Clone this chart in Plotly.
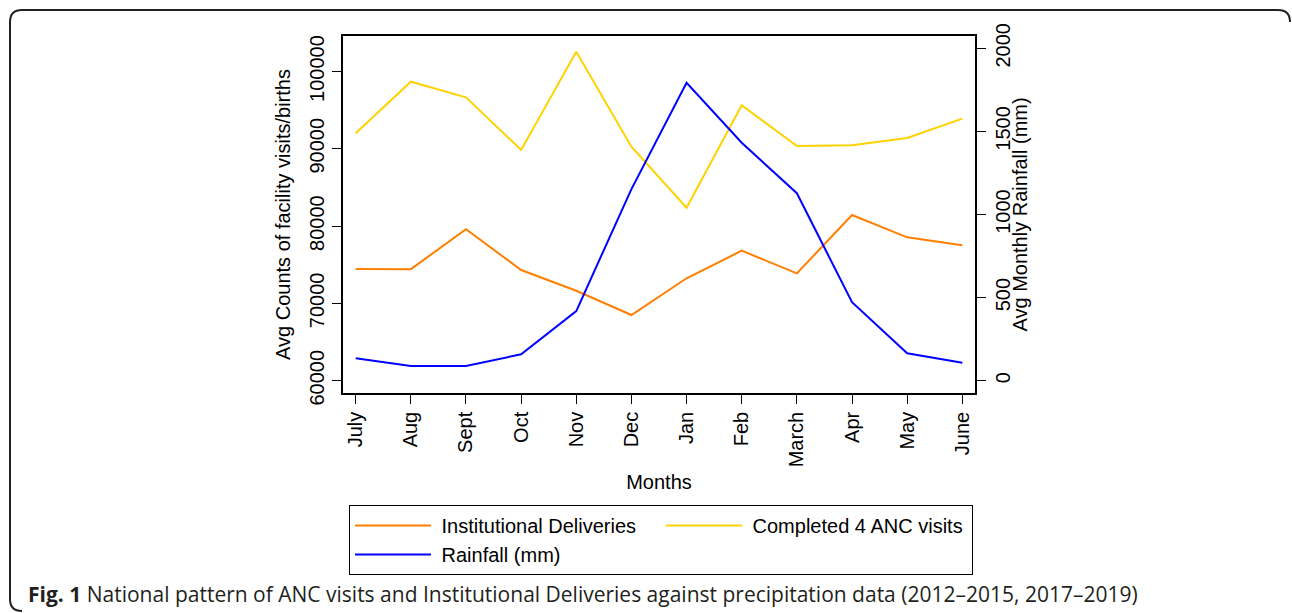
import plotly.graph_objects as go

months = ["July", "Aug", "Sept", "Oct", "Nov", "Dec", "Jan", "Feb", "March", "Apr", "May", "June"]
institutional_deliveries = [74450, 74430, 79590, 74320, 71640, 68500, 73250, 76820, 73890, 81440, 78550, 77520]
anc4_completed = [92000, 98680, 96660, 89850, 102560, 90270, 82380, 95630, 90360, 90450, 91400, 93900]
rainfall_mm = [135, 88, 88, 159, 419, 1153, 1793, 1432, 1128, 472, 165, 108]

left_ticks = [60000, 70000, 80000, 90000, 100000]
right_ticks = [0, 500, 1000, 1500, 2000]

W, H = 1292, 613
L, R, T, B = 343, 317, 36, 220
PW, PH = W - L - R, H - T - B

def px(x):
    return (x - L) / PW

def py(y):
    return (H - B - y) / PH

FONT = "Liberation Sans, Arial, sans-serif"
NB = "\u00a0"

fig = go.Figure()
fig.add_trace(go.Scatter(x=months, y=institutional_deliveries, mode="lines",
                         name=NB + "Institutional Deliveries",
                         line=dict(color="#FF7F00", width=2)))
fig.add_trace(go.Scatter(x=months, y=anc4_completed, mode="lines",
                         name=NB + "Completed 4 ANC visits",
                         line=dict(color="#FFD200", width=2)))
fig.add_trace(go.Scatter(x=months, y=rainfall_mm, mode="lines",
                         name=NB + "Rainfall (mm)", yaxis="y2",
                         line=dict(color="#0000FF", width=2)))

axis_common = dict(showline=True, linecolor="black", linewidth=1.5,
                   ticks="outside", ticklen=9, tickwidth=1, tickcolor="black",
                   showgrid=False, zeroline=False,
                   tickfont=dict(family=FONT, size=20, color="black"))

fig.update_layout(
    width=W, height=H,
    margin=dict(l=L, r=R, t=T, b=B, pad=0),
    paper_bgcolor="white", plot_bgcolor="white",
    font=dict(family=FONT, size=20, color="black"),
    xaxis=dict(**axis_common, mirror=True, type="category",
               range=[-0.23, 11.23], tickangle=-90,
               title=dict(text="Months", standoff=9,
                          font=dict(family=FONT, size=20, color="black"))),
    yaxis=dict(**axis_common, mirror=False, range=[58409, 104592],
               tickvals=left_ticks, ticktext=[str(v) for v in left_ticks],
               tickangle=-90,
               title=dict(text="Avg Counts of facility visits/births", standoff=10,
                          font=dict(family=FONT, size=20, color="black"))),
    yaxis2=dict(**axis_common, overlaying="y", side="right", range=[-74, 2074],
                tickvals=right_ticks, ticktext=[str(v) for v in right_ticks],
                tickangle=-90),
    legend=dict(orientation="h", x=px(349), y=py(505), xanchor="left", yanchor="top",
                bordercolor="black", borderwidth=1, bgcolor="white",
                itemwidth=76, entrywidth=220, entrywidthmode="pixels",
                font=dict(family=FONT, size=20, color="black"),
                traceorder="normal", tracegroupgap=0),
    showlegend=True,
)

# right axis title
fig.add_annotation(text="Avg Monthly Rainfall (mm)", textangle=-90,
                   xref="paper", yref="paper", x=px(1019), y=0.5,
                   xanchor="center", yanchor="middle", showarrow=False,
                   font=dict(family=FONT, size=20, color="black"))

# outer rounded frame of the figure panel
rad = 12
x0, y0, x1, y1 = 10, 10, 1290, 611
path = (f"M {px(x1)},{py(y0 + rad)} Q {px(x1)},{py(y0)} {px(x1 - rad)},{py(y0)} "
        f"L {px(x0 + rad)},{py(y0)} Q {px(x0)},{py(y0)} {px(x0)},{py(y0 + rad)} "
        f"L {px(x0)},{py(y1 - rad)} Q {px(x0)},{py(y1)} {px(x0 + rad)},{py(y1)}")
fig.add_shape(type="path", path=path, xref="paper", yref="paper",
              line=dict(color="#222222", width=2))

fig.add_annotation(
    text="<b>Fig. 1</b> National pattern of ANC visits and Institutional Deliveries against precipitation data (2012–2015, 2017–2019)",
    xref="paper", yref="paper", x=px(26), y=py(594), xanchor="left", yanchor="middle",
    showarrow=False, font=dict(family="Open Sans, sans-serif", size=21, color="#231F20"))

fig.write_html("out.html")
